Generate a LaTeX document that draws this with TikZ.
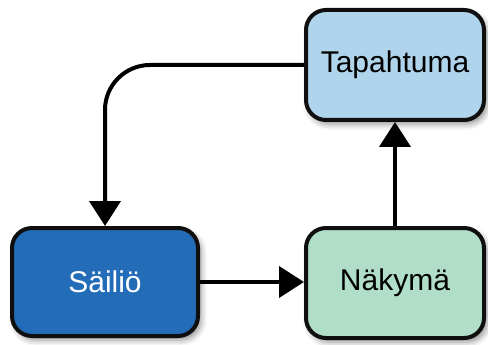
\documentclass[tikz,border=0pt]{standalone}
\usepackage{fontspec}
\setmainfont{Liberation Sans}
\usetikzlibrary{arrows.meta,shadows.blur}
\definecolor{saicol}{RGB}{34,108,184}
\definecolor{nakcol}{RGB}{176,222,200}
\definecolor{tapcol}{RGB}{176,212,236}
\definecolor{edgecol}{RGB}{15,15,15}
\tikzset{
  boxnode/.style={draw=edgecol, line width=4pt, rounded corners=20pt, inner sep=0pt,
    font=\fontsize{30}{35}\selectfont,
    blur shadow={shadow xshift=3pt, shadow yshift=-4pt, shadow blur radius=6pt, shadow opacity=45}},
  arr/.style={draw=black, line width=4pt, -{Triangle[length=25pt,width=31pt]}}
}
\begin{document}
\begin{tikzpicture}[x=1pt,y=-1pt]
\useasboundingbox (0,0) rectangle (488,345);
\node[boxnode, fill=saicol, text=white, minimum width=186pt, minimum height=108pt] (sai) at (105,282) {Säiliö};
\node[boxnode, fill=nakcol, text=black, minimum width=178pt, minimum height=110pt] (nak) at (395,283) {Näkymä};
\node[boxnode, fill=tapcol, text=black, minimum width=178pt, minimum height=110pt] (tap) at (395,65) {Tapahtuma};
\draw[arr] (sai.east) -- (nak.west |- sai.east);
\draw[arr] (nak.north) -- (tap.south);
\draw[arr, rounded corners=45pt] (tap.west) -| (sai.north);
\end{tikzpicture}
\end{document}
